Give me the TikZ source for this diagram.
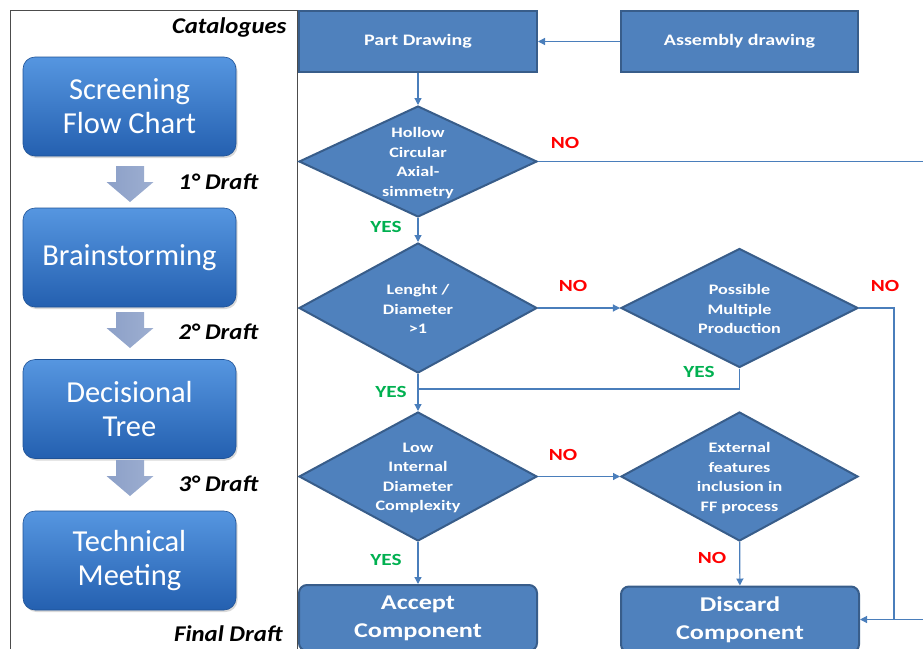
\documentclass[tikz,border=0pt]{standalone}
\usepackage{fontspec}
\setmainfont{Carlito}
\newfontfamily\flowfont{Carlito}[FakeStretch=1.25]
\newfontfamily\draftfont{Carlito}[FakeStretch=1.1]
\usetikzlibrary{arrows.meta,shapes.geometric,shadows}
\definecolor{flowblue}{RGB}{79,129,189}
\definecolor{flowedge}{RGB}{56,93,138}
\definecolor{linkblue}{RGB}{74,126,187}
\definecolor{padtop}{RGB}{86,150,224}
\definecolor{padbot}{RGB}{36,96,176}
\definecolor{arrowgrey}{RGB}{140,160,200}
\definecolor{yesgreen}{RGB}{0,176,80}
\definecolor{nored}{RGB}{255,0,0}
\tikzset{
  stage/.style={rectangle, rounded corners=12pt, top color=padtop, bottom color=padbot,
                draw=padbot!85!black, line width=0.6pt, minimum width=213pt, minimum height=99pt,
                align=center, text=white, font=\fontsize{30.5}{34}\selectfont,
                drop shadow={opacity=0.3, shadow xshift=1.5pt, shadow yshift=-2pt}},
  blk/.style={rectangle, draw=flowedge, line width=2pt, fill=flowblue, minimum height=61pt,
              align=center, text=white, font=\flowfont\bfseries\fontsize{16}{19}\selectfont},
  endbox/.style={blk, rounded corners=8pt, minimum height=66pt,
                 font=\flowfont\bfseries\fontsize{21}{28}\selectfont},
  dec/.style={diamond, draw=flowedge, line width=2pt, fill=flowblue, inner sep=0pt},
  dectxt/.style={align=center, text=white, inner sep=0pt,
                 font=\flowfont\bfseries\fontsize{14.5}{19.5}\selectfont},
  ar/.style={-{Triangle[length=7pt,width=7pt]}, draw=linkblue, line width=1.2pt},
  ln/.style={draw=linkblue, line width=1.2pt},
  yes/.style={text=yesgreen, font=\flowfont\bfseries\fontsize{17}{20}\selectfont},
  no/.style={text=nored, font=\flowfont\bfseries\fontsize{17}{20}\selectfont},
  draft/.style={font=\draftfont\bfseries\itshape\fontsize{22.5}{24}\selectfont},
}

\begin{document}
\begin{tikzpicture}[x=1pt,y=-1pt]
\useasboundingbox (0,0) rectangle (923,648);
\draw[gray!60!black, line width=0.8pt] (10.5,652) -- (10.5,10) -- (297,10) -- (297,652);

\foreach \n/\y/\txt in {s1/106.5/{Screening\\Flow Chart}, s2/257.5/Brainstorming,
                        s3/409/{Decisional\\Tree}, s4/560.5/{Technical\\Meeting}} {
  \node[stage] (\n) at (129.5,\y) {\txt};
}
\foreach \t/\ly/\k in {166/182/1, 312/332/2, 460/484/3} {
  \path[left color=arrowgrey, middle color=arrowgrey!20, right color=arrowgrey!85]
    (116,\t) -- (144,\t) -- (144,\t+16) -- (153.5,\t+16) -- (130,\t+36)
    -- (106.5,\t+16) -- (116,\t+16) -- cycle;
  \node[draft, anchor=west] (draft\k) at (175,\ly) {\k° Draft};
}
\node[draft, anchor=east] (cat) at (290,27) {Catalogues};
\node[draft, anchor=east] (final) at (286,634) {Final Draft};

\node[blk, minimum width=238pt] (part) at (418,41.5) {Part Drawing};
\node[blk, minimum width=237pt] (asm) at (739.5,41.5) {Assembly drawing};
\node[dec, minimum width=238pt, minimum height=111pt] (hollow) at (418,161.5) {};
\node[dectxt] (hollowtxt) at (418,163) {Hollow\\Circular\\Axial-\\simmetry};
\node[dec, minimum width=238pt, minimum height=130pt] (ratio) at (418,308) {};
\node[dectxt] (ratiotxt) at (418,309) {Lenght /\\Diameter\\>1};
\node[dec, minimum width=237pt, minimum height=119pt] (multi) at (739.5,308) {};
\node[dectxt] (multitxt) at (739.5,309) {Possible\\Multiple\\Production};
\node[dec, minimum width=238pt, minimum height=129pt] (lowint) at (418,476.5) {};
\node[dectxt] (lowinttxt) at (418,478) {Low\\Internal\\Diameter\\Complexity};
\node[dec, minimum width=237pt, minimum height=129pt] (extern) at (739.5,476.5) {};
\node[dectxt] (externtxt) at (739.5,478) {External\\features\\inclusion in\\FF process};
\node[endbox, minimum width=238pt] (accept) at (418,618) {Accept\\Component};
\node[endbox, minimum width=238pt] (discard) at (740,619.5) {Discard\\Component};

\coordinate (edgeA) at (925,161.5);
\coordinate (edgeB) at (925,0);
\coordinate (rside) at (894,0);
\coordinate (join) at (418,389);

\draw[ar] (asm) -- (part);
\draw[ar] (part) -- (hollow);
\draw[ln] (hollow.east) -- (edgeA);
\draw[ar] (hollow) -- (ratio);
\draw[ar] (ratio) -- (multi);
\draw[ar] (ratio) -- (lowint);
\draw[ln] (multi.south) |- (join);
\draw[ar] (multi.east) -| (rside |- discard.east) -- (discard.east);
\draw[ln] (edgeB |- discard.east) -- (rside |- discard.east);
\draw[ar] (lowint) -- (extern);
\draw[ar] (lowint) -- (accept);
\draw[ar] (extern) -- (discard);

\node[no] (no1) at (565,143) {NO};
\node[yes] (yes1) at (386,227) {YES};
\node[no] (no2) at (573,286) {NO};
\node[no] (no3) at (885,286) {NO};
\node[yes] (yes2) at (699,372) {YES};
\node[yes] (yes3) at (391,392) {YES};
\node[no] (no4) at (563,455) {NO};
\node[yes] (yes4) at (386,560) {YES};
\node[no] (no5) at (712,558) {NO};
\end{tikzpicture}
\end{document}
